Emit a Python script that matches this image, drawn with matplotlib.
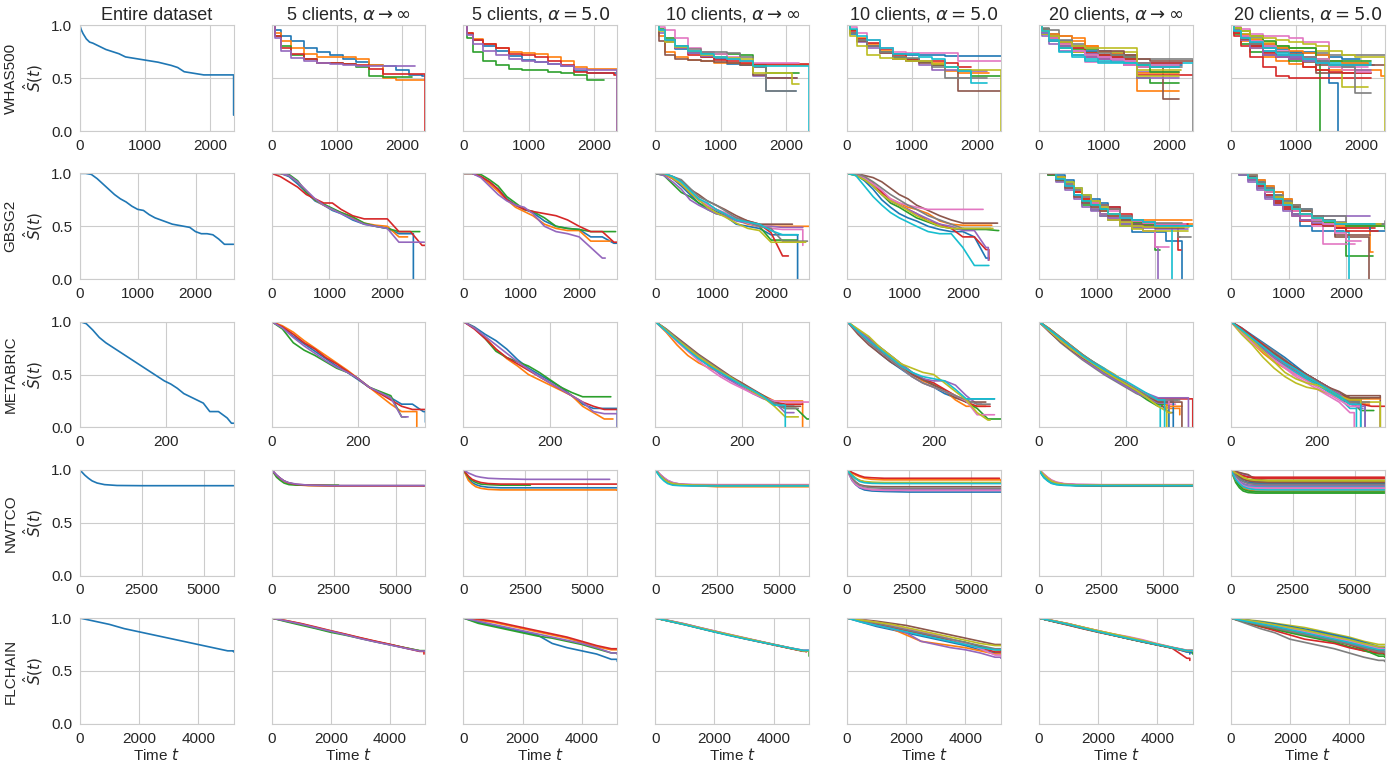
import matplotlib
matplotlib.use('Agg')
import matplotlib.pyplot as plt
import seaborn as sns

sns.set_style('whitegrid')
plt.rcParams['font.family'] = ['Liberation Sans', 'DejaVu Sans']
plt.rcParams['mathtext.fontset'] = 'dejavusans'

datasets = ['WHAS500', 'GBSG2', 'METABRIC', 'NWTCO', 'FLCHAIN']
col_titles = ['Entire dataset',
              r'5 clients, $\alpha \rightarrow \infty$', r'5 clients, $\alpha = 5.0$',
              r'10 clients, $\alpha \rightarrow \infty$', r'10 clients, $\alpha = 5.0$',
              r'20 clients, $\alpha \rightarrow \infty$', r'20 clients, $\alpha = 5.0$']
t_max = [2358, 2659, 355, 6209, 5200]
x_ticks = [[0, 1000, 2000], [0, 1000, 2000], [0, 200], [0, 2500, 5000], [0, 2000, 4000]]
# first column index drawn as coarse KM steps in each row (others drawn as lines)
step_from_col = [1, 5, 99, 99, 99]

# ---------------- WHAS500 ----------------
whas_full_t = [0, 20, 50, 100, 150, 200, 300, 400, 500, 600, 700, 800, 1000, 1200, 1400, 1500, 1600, 1700, 1900, 2100, 2300]
whas_full_s = [[1.0, 0.96, 0.92, 0.87, 0.84, 0.83, 0.80, 0.77, 0.75, 0.73, 0.70, 0.69, 0.67, 0.65, 0.62, 0.60, 0.56, 0.55, 0.53, 0.53, 0.53]]
whas_full_end = [(2358, 0.15)]
whas_t = [0, 50, 150, 300, 500, 700, 900, 1100, 1300, 1500, 1700, 1900, 2100, 2300]
whas_5inf_s = [
    [1, 0.95, 0.90, 0.85, 0.78, 0.75, 0.72, 0.68, 0.65, 0.62, 0.61, 0.58, 0.53, 0.52],
    [1, 0.93, 0.85, 0.78, 0.73, 0.70, 0.70, 0.70, 0.68, 0.62, 0.50, 0.48, 0.48, 0.48],
    [1, 0.90, 0.80, 0.72, 0.68, 0.64, 0.64, 0.63, 0.60, 0.52, 0.51, 0.51, 0.51],
    [1, 0.90, 0.78, 0.73, 0.68, 0.64, 0.64, 0.63, 0.62, 0.59, 0.54, 0.54, 0.54, 0.54],
    [1, 0.88, 0.76, 0.69, 0.66, 0.64, 0.63, 0.62, 0.61, 0.61, 0.61, 0.61, 0.61]]
whas_5inf_end = [(2358, 0.52), (2358, 0.48), (2150, 0.51), (2358, 0.0), (2200, 0.61)]
whas_5a5_s = [
    [1, 0.92, 0.86, 0.80, 0.76, 0.71, 0.67, 0.65, 0.63, 0.61, 0.57, 0.55, 0.55, 0.55],
    [1, 0.93, 0.87, 0.82, 0.78, 0.75, 0.74, 0.73, 0.70, 0.66, 0.60, 0.59, 0.59, 0.59],
    [1, 0.88, 0.75, 0.66, 0.62, 0.59, 0.58, 0.58, 0.56, 0.55, 0.53, 0.48, 0.48],
    [1, 0.93, 0.86, 0.82, 0.78, 0.73, 0.72, 0.70, 0.66, 0.62, 0.56, 0.55, 0.55, 0.53],
    [1, 0.91, 0.82, 0.76, 0.72, 0.68, 0.66, 0.65, 0.63, 0.61, 0.59, 0.58, 0.58, 0.58]]
whas_5a5_end = [(2358, 0.55), (2358, 0.0), (2160, 0.48), (2358, 0.53), (2358, 0.0)]
whas_10inf_s = [
    [1, 0.95, 0.85, 0.77, 0.74, 0.70, 0.68, 0.63, 0.62, 0.60, 0.38, 0.38, 0.38],
    [1, 0.90, 0.75, 0.70, 0.67, 0.66, 0.64, 0.64, 0.63, 0.62, 0.62, 0.62, 0.62, 0.62],
    [1, 0.96, 0.88, 0.80, 0.75, 0.74, 0.73, 0.73, 0.72, 0.62, 0.55, 0.55, 0.55],
    [1, 0.95, 0.85, 0.78, 0.72, 0.70, 0.67, 0.66, 0.64, 0.63, 0.63, 0.63, 0.63, 0.63],
    [1, 0.93, 0.84, 0.78, 0.74, 0.71, 0.70, 0.68, 0.66, 0.52, 0.50, 0.50, 0.50],
    [1, 0.85, 0.72, 0.68, 0.67, 0.66, 0.65, 0.64, 0.62, 0.53, 0.50, 0.50, 0.50],
    [1, 0.98, 0.95, 0.88, 0.78, 0.75, 0.73, 0.70, 0.66, 0.64, 0.64, 0.64, 0.64],
    [1, 0.95, 0.86, 0.80, 0.77, 0.75, 0.75, 0.74, 0.70, 0.60, 0.38, 0.38, 0.38],
    [1, 0.94, 0.84, 0.79, 0.76, 0.72, 0.70, 0.69, 0.68, 0.55, 0.55, 0.55, 0.44],
    [1, 0.95, 0.86, 0.80, 0.76, 0.73, 0.70, 0.68, 0.66, 0.61, 0.61, 0.61, 0.61, 0.61]]
whas_10inf_end = [(2150, 0.38), (2358, 0.62), (2200, 0.55), (2358, 0.63), (2170, 0.50),
                  (2170, 0.50), (2200, 0.64), (2150, 0.38), (2200, 0.44), (2358, 0.0)]
whas_10a5_s = [
    [1, 0.92, 0.85, 0.80, 0.78, 0.73, 0.72, 0.72, 0.72, 0.71, 0.71, 0.71, 0.71, 0.71],
    [1, 0.95, 0.88, 0.82, 0.76, 0.70, 0.67, 0.66, 0.64, 0.57, 0.55, 0.55, 0.55],
    [1, 0.95, 0.86, 0.80, 0.75, 0.70, 0.68, 0.65, 0.62, 0.60, 0.58, 0.52, 0.52, 0.52],
    [1, 0.94, 0.87, 0.83, 0.77, 0.72, 0.67, 0.66, 0.66, 0.64, 0.60, 0.60],
    [1, 0.93, 0.84, 0.78, 0.74, 0.68, 0.66, 0.62, 0.58, 0.58, 0.57, 0.57, 0.57],
    [1, 0.93, 0.85, 0.80, 0.74, 0.68, 0.66, 0.64, 0.62, 0.60, 0.38, 0.38, 0.38, 0.38],
    [1, 0.98, 0.93, 0.86, 0.78, 0.75, 0.74, 0.74, 0.74, 0.74, 0.66, 0.66, 0.66, 0.66],
    [1, 0.93, 0.86, 0.80, 0.75, 0.70, 0.69, 0.66, 0.60, 0.50, 0.50, 0.50, 0.50],
    [1, 0.90, 0.80, 0.72, 0.69, 0.68, 0.66, 0.66, 0.63, 0.60, 0.58, 0.58, 0.58, 0.58],
    [1, 0.96, 0.90, 0.86, 0.78, 0.73, 0.73, 0.70, 0.68, 0.60, 0.57, 0.45, 0.45]]
whas_10a5_end = [(2358, 0.71), (2170, 0.55), (2358, 0.52), (1900, 0.60), (2150, 0.57),
                 (2358, 0.38), (2358, 0.66), (2150, 0.50), (2358, 0.0), (2150, 0.45)]
whas_20inf_s = [
    [1, 0.95, 0.90, 0.82, 0.78, 0.75, 0.75, 0.75, 0.72, 0.60, 0.60, 0.60, 0.60],
    [1, 0.93, 0.88, 0.85, 0.85, 0.80, 0.72, 0.72, 0.72, 0.38, 0.38, 0.38, 0.38],
    [1, 0.92, 0.85, 0.78, 0.72, 0.72, 0.70, 0.70, 0.68, 0.50, 0.45, 0.45, 0.45],
    [1, 0.95, 0.88, 0.80, 0.75, 0.70, 0.68, 0.68, 0.62, 0.53, 0.53, 0.53, 0.53, 0.53],
    [1, 0.90, 0.82, 0.76, 0.72, 0.70, 0.68, 0.66, 0.62, 0.56, 0.56, 0.56, 0.56],
    [1, 0.93, 0.85, 0.80, 0.75, 0.72, 0.70, 0.70, 0.65, 0.60, 0.60, 0.30, 0.30],
    [1, 0.95, 0.90, 0.82, 0.78, 0.65, 0.65, 0.65, 0.62, 0.60, 0.60, 0.60, 0.60],
    [1, 0.97, 0.95, 0.90, 0.82, 0.78, 0.75, 0.75, 0.72, 0.68, 0.68, 0.68, 0.68, 0.68],
    [1, 0.92, 0.88, 0.82, 0.75, 0.75, 0.75, 0.75, 0.75, 0.58, 0.58, 0.58, 0.58],
    [1, 0.93, 0.85, 0.75, 0.72, 0.66, 0.64, 0.64, 0.64, 0.64, 0.64, 0.64, 0.64, 0.64],
    [1, 0.96, 0.92, 0.85, 0.80, 0.76, 0.76, 0.73, 0.70, 0.62, 0.62, 0.62, 0.62],
    [1, 0.95, 0.92, 0.90, 0.88, 0.80, 0.75, 0.73, 0.70, 0.55, 0.55, 0.55, 0.55],
    [1, 0.96, 0.88, 0.80, 0.77, 0.77, 0.72, 0.72, 0.70, 0.62, 0.56, 0.56, 0.56],
    [1, 0.94, 0.88, 0.83, 0.78, 0.74, 0.72, 0.70, 0.68, 0.64, 0.64, 0.64, 0.64],
    [1, 0.93, 0.86, 0.80, 0.76, 0.73, 0.70, 0.68, 0.66, 0.50, 0.50, 0.50, 0.50],
    [1, 0.95, 0.90, 0.84, 0.80, 0.78, 0.76, 0.76, 0.72, 0.68, 0.66, 0.66, 0.66, 0.66],
    [1, 0.94, 0.88, 0.82, 0.76, 0.72, 0.70, 0.68, 0.66, 0.64, 0.62, 0.62, 0.62],
    [1, 0.96, 0.90, 0.86, 0.80, 0.78, 0.74, 0.72, 0.70, 0.64, 0.60, 0.60, 0.60],
    [1, 0.94, 0.90, 0.84, 0.80, 0.78, 0.78, 0.78, 0.78, 0.52, 0.52, 0.52, 0.52],
    [1, 0.94, 0.86, 0.78, 0.70, 0.68, 0.66, 0.65, 0.64, 0.62, 0.60, 0.60, 0.60]]
whas_20inf_end = [(2150, 0.60), (2150, 0.38), (2150, 0.45), (2358, 0.53), (2150, 0.56),
                  (2150, 0.30), (2150, 0.60), (2358, 0.0), (2180, 0.58), (2358, 0.64),
                  (2200, 0.62), (2150, 0.55), (2150, 0.56), (2200, 0.64), (2150, 0.50),
                  (2358, 0.66), (2150, 0.62), (2200, 0.60), (2150, 0.52), (2150, 0.60)]
whas_20a5_s = [
    [1, 0.95, 0.88, 0.80, 0.75, 0.72, 0.70, 0.70, 0.66, 0.45],
    [1, 0.93, 0.85, 0.78, 0.70, 0.66, 0.63, 0.60, 0.58, 0.58, 0.58, 0.58, 0.58, 0.52],
    [1, 0.92, 0.82, 0.75, 0.72, 0.70, 0.66, 0.66, 0.66],
    [1, 0.90, 0.80, 0.70, 0.60, 0.52, 0.50, 0.50, 0.50, 0.50, 0.50, 0.50, 0.50],
    [1, 0.94, 0.88, 0.82, 0.76, 0.72, 0.70, 0.68, 0.64, 0.60, 0.60, 0.58, 0.58],
    [1, 0.96, 0.90, 0.80, 0.72, 0.70, 0.68, 0.65, 0.55, 0.55, 0.55, 0.55, 0.55],
    [1, 0.98, 0.96, 0.92, 0.90, 0.90, 0.88, 0.84, 0.84, 0.62, 0.60, 0.60],
    [1, 0.96, 0.92, 0.88, 0.82, 0.78, 0.75, 0.74, 0.74, 0.72, 0.72, 0.72, 0.72, 0.72],
    [1, 0.97, 0.92, 0.87, 0.84, 0.80, 0.78, 0.78, 0.76, 0.60, 0.42, 0.42],
    [1, 0.94, 0.88, 0.82, 0.76, 0.72, 0.68, 0.66, 0.64, 0.64, 0.64, 0.64, 0.64],
    [1, 0.95, 0.90, 0.84, 0.80, 0.77, 0.75, 0.75, 0.72, 0.70, 0.68, 0.68],
    [1, 0.96, 0.91, 0.86, 0.82, 0.78, 0.76, 0.74, 0.72, 0.66, 0.64, 0.64, 0.62],
    [1, 0.97, 0.94, 0.90, 0.85, 0.80, 0.78, 0.78, 0.68, 0.66, 0.66, 0.66, 0.66],
    [1, 0.93, 0.86, 0.80, 0.74, 0.70, 0.68, 0.60, 0.58, 0.56, 0.55, 0.55, 0.55],
    [1, 0.95, 0.86, 0.78, 0.72, 0.70, 0.68, 0.66, 0.64, 0.62, 0.62, 0.62, 0.62],
    [1, 0.94, 0.87, 0.82, 0.78, 0.75, 0.73, 0.70, 0.62, 0.62, 0.62, 0.62, 0.62, 0.62],
    [1, 0.95, 0.90, 0.85, 0.80, 0.76, 0.72, 0.70, 0.68, 0.60, 0.58, 0.56, 0.56],
    [1, 0.95, 0.88, 0.82, 0.78, 0.75, 0.72, 0.70, 0.66, 0.62, 0.60, 0.36, 0.36],
    [1, 0.97, 0.94, 0.90, 0.88, 0.86, 0.84, 0.82, 0.80, 0.76, 0.72, 0.70, 0.70, 0.70],
    [1, 0.94, 0.88, 0.84, 0.78, 0.74, 0.72, 0.68, 0.64, 0.62, 0.62, 0.62, 0.62]]
whas_20a5_end = [(1640, 0.0), (2358, 0.52), (1370, 0.0), (2150, 0.50), (2150, 0.58),
                 (2150, 0.55), (2100, 0.60), (2358, 0.72), (2100, 0.42), (2150, 0.64),
                 (1980, 0.68), (2200, 0.62), (2150, 0.66), (2150, 0.55), (2200, 0.62),
                 (2358, 0.62), (2150, 0.56), (2150, 0.36), (2358, 0.0), (2150, 0.62)]

# ---------------- GBSG2 ----------------
gbsg_full_t = [0, 100, 200, 300, 400, 500, 600, 700, 800, 900, 1000, 1100, 1200, 1300, 1400, 1500, 1600, 1700, 1800, 1900, 2000, 2100, 2200, 2300, 2400, 2500]
gbsg_full_s = [[1.0, 1.0, 0.99, 0.95, 0.90, 0.85, 0.80, 0.76, 0.73, 0.69, 0.66, 0.65, 0.61, 0.58, 0.56, 0.54, 0.52, 0.51, 0.50, 0.49, 0.45, 0.43, 0.43, 0.42, 0.38, 0.33]]
gbsg_full_end = [(2659, 0.33)]
gbsg_t = [0, 150, 300, 450, 600, 750, 900, 1050, 1200, 1400, 1600, 1800, 2000, 2200, 2400, 2600]
gbsg_5inf_s = [
    [1, 1.0, 0.97, 0.90, 0.82, 0.74, 0.70, 0.65, 0.62, 0.56, 0.52, 0.50, 0.48, 0.43, 0.43],
    [1, 1.0, 0.98, 0.92, 0.83, 0.75, 0.70, 0.66, 0.63, 0.58, 0.53, 0.51, 0.50, 0.40],
    [1, 1.0, 0.99, 0.93, 0.82, 0.75, 0.71, 0.67, 0.63, 0.59, 0.53, 0.50, 0.48, 0.45, 0.45],
    [1, 0.97, 0.92, 0.87, 0.80, 0.76, 0.72, 0.72, 0.66, 0.60, 0.57, 0.57, 0.57, 0.45, 0.45, 0.32],
    [1, 1.0, 0.98, 0.92, 0.84, 0.76, 0.70, 0.66, 0.62, 0.57, 0.52, 0.50, 0.48, 0.35, 0.35, 0.35]]
gbsg_5inf_end = [(2450, 0.0), (2350, 0.40), (2560, 0.45), (2659, 0.32), (2640, 0.35)]
gbsg_5a5_s = [
    [1, 1.0, 0.97, 0.92, 0.85, 0.76, 0.70, 0.66, 0.63, 0.55, 0.50, 0.48, 0.47, 0.40, 0.40, 0.34],
    [1, 1.0, 0.97, 0.90, 0.83, 0.75, 0.68, 0.64, 0.60, 0.52, 0.48, 0.46, 0.46, 0.36, 0.36],
    [1, 1.0, 0.99, 0.94, 0.88, 0.78, 0.72, 0.66, 0.64, 0.58, 0.50, 0.48, 0.47, 0.45, 0.45, 0.45],
    [1, 1.0, 0.97, 0.92, 0.85, 0.75, 0.70, 0.66, 0.64, 0.62, 0.60, 0.56, 0.50, 0.45, 0.45, 0.35],
    [1, 1.0, 0.96, 0.88, 0.80, 0.74, 0.70, 0.68, 0.62, 0.50, 0.45, 0.43, 0.40, 0.30, 0.20]]
gbsg_5a5_end = [(2659, 0.34), (2540, 0.36), (2630, 0.45), (2659, 0.35), (2450, 0.20)]
gbsg_10inf_s = [
    [1, 1.0, 0.95, 0.88, 0.80, 0.72, 0.68, 0.64, 0.60, 0.52, 0.50, 0.48, 0.42, 0.42, 0.42],
    [1, 0.99, 0.95, 0.90, 0.82, 0.75, 0.70, 0.66, 0.62, 0.56, 0.52, 0.50, 0.50, 0.50, 0.50, 0.50],
    [1, 0.98, 0.90, 0.82, 0.78, 0.72, 0.66, 0.62, 0.60, 0.56, 0.53, 0.50, 0.37, 0.37, 0.37],
    [1, 1.0, 0.96, 0.90, 0.82, 0.75, 0.70, 0.66, 0.62, 0.58, 0.55, 0.52, 0.44, 0.22],
    [1, 0.98, 0.92, 0.85, 0.75, 0.70, 0.66, 0.62, 0.60, 0.55, 0.53, 0.50, 0.50, 0.49, 0.49],
    [1, 1.0, 0.97, 0.93, 0.85, 0.80, 0.74, 0.70, 0.66, 0.60, 0.55, 0.52, 0.52, 0.52],
    [1, 1.0, 0.96, 0.90, 0.83, 0.76, 0.70, 0.66, 0.63, 0.58, 0.53, 0.50, 0.48, 0.47, 0.47],
    [1, 1.0, 0.97, 0.94, 0.86, 0.78, 0.74, 0.70, 0.65, 0.58, 0.54, 0.50, 0.48, 0.36, 0.36, 0.36],
    [1, 1.0, 0.96, 0.90, 0.82, 0.75, 0.68, 0.63, 0.59, 0.53, 0.48, 0.46, 0.35, 0.35, 0.35],
    [1, 1.0, 0.97, 0.92, 0.84, 0.76, 0.72, 0.66, 0.62, 0.56, 0.54, 0.52, 0.46, 0.42, 0.42]]
gbsg_10inf_end = [(2460, 0.0), (2659, 0.50), (2450, 0.37), (2300, 0.22), (2550, 0.49),
                  (2370, 0.52), (2550, 0.32), (2630, 0.36), (2600, 0.35), (2470, 0.42)]
gbsg_10a5_s = [
    [1, 0.99, 0.93, 0.85, 0.75, 0.68, 0.62, 0.58, 0.55, 0.50, 0.47, 0.45, 0.45, 0.40, 0.20],
    [1, 1.0, 0.97, 0.90, 0.82, 0.76, 0.72, 0.68, 0.66, 0.62, 0.55, 0.52, 0.51, 0.51, 0.51],
    [1, 0.98, 0.94, 0.88, 0.80, 0.72, 0.68, 0.63, 0.58, 0.54, 0.50, 0.48, 0.47, 0.47, 0.47, 0.46],
    [1, 1.0, 0.96, 0.90, 0.82, 0.74, 0.70, 0.66, 0.62, 0.55, 0.52, 0.48, 0.40, 0.40, 0.28],
    [1, 1.0, 0.95, 0.88, 0.80, 0.74, 0.70, 0.66, 0.62, 0.57, 0.52, 0.50, 0.46, 0.46, 0.30],
    [1, 1.0, 0.98, 0.96, 0.92, 0.86, 0.80, 0.76, 0.70, 0.65, 0.60, 0.56, 0.53, 0.53, 0.53],
    [1, 1.0, 0.96, 0.90, 0.84, 0.76, 0.72, 0.70, 0.68, 0.66, 0.66, 0.66, 0.66, 0.66],
    [1, 1.0, 0.97, 0.92, 0.86, 0.80, 0.75, 0.70, 0.66, 0.60, 0.56, 0.52, 0.48, 0.48, 0.48],
    [1, 0.98, 0.94, 0.88, 0.80, 0.74, 0.70, 0.65, 0.60, 0.55, 0.50, 0.48, 0.48, 0.48, 0.48],
    [1, 0.98, 0.88, 0.78, 0.70, 0.63, 0.58, 0.54, 0.50, 0.45, 0.43, 0.43, 0.30, 0.13, 0.13]]
gbsg_10a5_end = [(2450, 0.20), (2500, 0.51), (2620, 0.46), (2450, 0.18), (2440, 0.18),
                 (2600, 0.53), (2350, 0.66), (2480, 0.48), (2520, 0.48), (2450, 0.13)]
gbsg_20inf_s = [
    [1, 1.0, 0.96, 0.90, 0.82, 0.72, 0.68, 0.62, 0.58, 0.50, 0.45, 0.45, 0.45, 0.36, 0.36],
    [1, 1.0, 0.95, 0.88, 0.82, 0.76, 0.72, 0.66, 0.62, 0.58, 0.56, 0.56, 0.56, 0.56, 0.56, 0.56],
    [1, 0.98, 0.93, 0.86, 0.78, 0.70, 0.65, 0.60, 0.56, 0.52, 0.48, 0.46, 0.28],
    [1, 1.0, 0.97, 0.92, 0.84, 0.76, 0.72, 0.70, 0.66, 0.56, 0.52, 0.50, 0.50, 0.50, 0.28],
    [1, 0.98, 0.92, 0.84, 0.76, 0.68, 0.64, 0.60, 0.56, 0.52, 0.48, 0.46, 0.30],
    [1, 1.0, 0.95, 0.88, 0.80, 0.74, 0.70, 0.66, 0.62, 0.55, 0.52, 0.50, 0.50, 0.50, 0.40],
    [1, 1.0, 0.94, 0.86, 0.78, 0.72, 0.68, 0.62, 0.58, 0.54, 0.50, 0.46, 0.30, 0.30],
    [1, 1.0, 0.97, 0.92, 0.84, 0.78, 0.72, 0.68, 0.62, 0.56, 0.54, 0.52, 0.52, 0.52, 0.40, 0.40],
    [1, 1.0, 0.96, 0.88, 0.80, 0.72, 0.67, 0.62, 0.56, 0.50, 0.47, 0.46, 0.46, 0.46, 0.46],
    [1, 1.0, 0.97, 0.92, 0.85, 0.78, 0.72, 0.66, 0.62, 0.58, 0.52, 0.50, 0.50, 0.50],
    [1, 1.0, 0.98, 0.94, 0.86, 0.80, 0.76, 0.72, 0.68, 0.60, 0.56, 0.52, 0.50, 0.50, 0.50, 0.50],
    [1, 1.0, 0.96, 0.90, 0.82, 0.76, 0.70, 0.64, 0.60, 0.56, 0.54, 0.52, 0.52, 0.52, 0.52, 0.52],
    [1, 0.98, 0.94, 0.88, 0.80, 0.74, 0.70, 0.66, 0.62, 0.57, 0.54, 0.52, 0.52, 0.52, 0.52],
    [1, 1.0, 0.97, 0.90, 0.82, 0.76, 0.72, 0.70, 0.68, 0.62, 0.55, 0.53, 0.52, 0.52, 0.52],
    [1, 1.0, 0.95, 0.88, 0.80, 0.72, 0.66, 0.62, 0.58, 0.55, 0.50, 0.48, 0.47, 0.47, 0.47],
    [1, 0.99, 0.94, 0.86, 0.78, 0.72, 0.68, 0.64, 0.60, 0.56, 0.52, 0.50, 0.48, 0.48, 0.48],
    [1, 1.0, 0.96, 0.90, 0.84, 0.78, 0.72, 0.68, 0.64, 0.58, 0.55, 0.53, 0.52, 0.52, 0.52],
    [1, 1.0, 0.96, 0.90, 0.84, 0.78, 0.74, 0.70, 0.66, 0.60, 0.56, 0.54, 0.53, 0.53, 0.53],
    [1, 1.0, 0.97, 0.92, 0.86, 0.80, 0.74, 0.68, 0.62, 0.54, 0.50, 0.49, 0.49, 0.49, 0.49],
    [1, 1.0, 0.95, 0.88, 0.80, 0.74, 0.70, 0.66, 0.62, 0.58, 0.56, 0.54, 0.50, 0.50, 0.50, 0.50]]
gbsg_20inf_end = [(2470, 0.0), (2640, 0.56), (2100, 0.28), (2460, 0.28), (2050, 0.0),
                  (2440, 0.40), (2250, 0.30), (2630, 0.40), (2580, 0.46), (2300, 0.0),
                  (2650, 0.50), (2659, 0.52), (2450, 0.52), (2580, 0.52), (2580, 0.47),
                  (2500, 0.48), (2540, 0.52), (2480, 0.53), (2600, 0.49), (2659, 0.50)]
gbsg_20a5_s = [
    [1, 1.0, 0.95, 0.88, 0.80, 0.74, 0.68, 0.62, 0.50, 0.46, 0.46, 0.46],
    [1, 1.0, 0.97, 0.90, 0.84, 0.78, 0.72, 0.68, 0.62, 0.56, 0.53, 0.50, 0.50, 0.50, 0.26],
    [1, 0.98, 0.94, 0.86, 0.78, 0.72, 0.66, 0.62, 0.56, 0.52, 0.50, 0.48, 0.22, 0.22, 0.22],
    [1, 1.0, 0.96, 0.90, 0.82, 0.74, 0.68, 0.64, 0.56, 0.52, 0.50, 0.48, 0.48, 0.48, 0.48],
    [1, 0.98, 0.92, 0.84, 0.76, 0.70, 0.66, 0.62, 0.60, 0.60, 0.60, 0.60, 0.60, 0.60],
    [1, 1.0, 0.97, 0.92, 0.86, 0.78, 0.72, 0.66, 0.60, 0.55, 0.50, 0.40, 0.40, 0.40],
    [1, 1.0, 0.96, 0.90, 0.84, 0.76, 0.70, 0.64, 0.60, 0.50, 0.33, 0.33, 0.33],
    [1, 1.0, 0.98, 0.94, 0.88, 0.82, 0.76, 0.70, 0.64, 0.60, 0.60, 0.60, 0.52, 0.52, 0.52, 0.52],
    [1, 1.0, 0.96, 0.90, 0.84, 0.78, 0.74, 0.68, 0.64, 0.58, 0.54, 0.52, 0.50, 0.50, 0.50],
    [1, 1.0, 0.97, 0.92, 0.86, 0.80, 0.74, 0.68, 0.62, 0.56, 0.50, 0.45],
    [1, 1.0, 0.97, 0.92, 0.86, 0.80, 0.75, 0.70, 0.66, 0.60, 0.56, 0.53, 0.50, 0.50, 0.46, 0.46],
    [1, 1.0, 0.98, 0.94, 0.88, 0.82, 0.76, 0.70, 0.64, 0.58, 0.55, 0.52, 0.50, 0.50, 0.50],
    [1, 1.0, 0.96, 0.90, 0.82, 0.76, 0.70, 0.66, 0.62, 0.57, 0.54, 0.52, 0.50, 0.50, 0.50, 0.50],
    [1, 1.0, 0.95, 0.88, 0.80, 0.72, 0.66, 0.60, 0.55, 0.52, 0.50, 0.48, 0.46, 0.46, 0.46],
    [1, 1.0, 0.94, 0.86, 0.78, 0.70, 0.64, 0.60, 0.56, 0.53, 0.52, 0.52, 0.52, 0.52],
    [1, 1.0, 0.97, 0.90, 0.84, 0.78, 0.72, 0.68, 0.64, 0.60, 0.55, 0.42, 0.42, 0.42],
    [1, 1.0, 0.96, 0.90, 0.82, 0.76, 0.70, 0.66, 0.62, 0.56, 0.52, 0.44, 0.36, 0.36],
    [1, 1.0, 0.98, 0.92, 0.86, 0.80, 0.74, 0.70, 0.66, 0.60, 0.56, 0.54, 0.52, 0.52, 0.52, 0.52],
    [1, 1.0, 0.96, 0.90, 0.84, 0.78, 0.72, 0.66, 0.62, 0.58, 0.55, 0.53, 0.52, 0.52, 0.52],
    [1, 1.0, 0.96, 0.90, 0.84, 0.76, 0.70, 0.66, 0.62, 0.58, 0.55, 0.52, 0.52, 0.52, 0.52]]
gbsg_20a5_end = [(1950, 0.46), (2450, 0.26), (2450, 0.22), (2500, 0.48), (2400, 0.60),
                 (2390, 0.0), (2150, 0.33), (2659, 0.52), (2450, 0.50), (2050, 0.0),
                 (2659, 0.46), (2600, 0.50), (2659, 0.47), (2540, 0.46), (2400, 0.52),
                 (2400, 0.42), (2250, 0.36), (2659, 0.55), (2600, 0.52), (2500, 0.52)]

# ---------------- METABRIC ----------------
meta_full_t = [0, 15, 30, 45, 60, 75, 90, 105, 120, 135, 150, 165, 180, 195, 210, 225, 240, 255, 270, 285, 300, 320, 340, 350]
meta_full_s = [[1.0, 0.98, 0.92, 0.85, 0.80, 0.76, 0.72, 0.68, 0.64, 0.60, 0.56, 0.52, 0.48, 0.44, 0.41, 0.37, 0.32, 0.29, 0.26, 0.23, 0.15, 0.15, 0.09, 0.04]]
meta_full_end = [(355, 0.04)]
meta_t = [0, 25, 50, 75, 100, 125, 150, 175, 200, 225, 250, 275, 300, 325, 350]
meta_5inf_s = [
    [1, 0.94, 0.86, 0.79, 0.72, 0.65, 0.58, 0.52, 0.45, 0.38, 0.33, 0.28, 0.22, 0.22, 0.15],
    [1, 0.96, 0.90, 0.82, 0.75, 0.68, 0.61, 0.54, 0.46, 0.38, 0.30, 0.22, 0.15, 0.15],
    [1, 0.93, 0.80, 0.73, 0.68, 0.62, 0.56, 0.52, 0.46, 0.38, 0.34, 0.30, 0.10],
    [1, 0.95, 0.88, 0.80, 0.74, 0.66, 0.60, 0.53, 0.46, 0.38, 0.32, 0.26, 0.20, 0.17],
    [1, 0.94, 0.85, 0.77, 0.70, 0.63, 0.57, 0.52, 0.46, 0.38, 0.33, 0.28, 0.10]]
meta_5inf_end = [(355, 0.05), (335, 0.0), (310, 0.10), (355, 0.17), (315, 0.10)]
meta_5a5_s = [
    [1, 0.95, 0.88, 0.82, 0.74, 0.64, 0.56, 0.50, 0.44, 0.38, 0.30, 0.22, 0.18, 0.18, 0.18],
    [1, 0.94, 0.85, 0.74, 0.65, 0.58, 0.50, 0.45, 0.40, 0.35, 0.30, 0.20, 0.14, 0.08],
    [1, 0.94, 0.84, 0.72, 0.66, 0.62, 0.58, 0.52, 0.45, 0.38, 0.33, 0.29, 0.29, 0.29],
    [1, 0.93, 0.84, 0.74, 0.66, 0.60, 0.54, 0.48, 0.42, 0.36, 0.30, 0.24, 0.20, 0.17, 0.17],
    [1, 0.94, 0.86, 0.78, 0.70, 0.62, 0.55, 0.48, 0.42, 0.36, 0.30, 0.24, 0.15, 0.13, 0.13]]
meta_5a5_end = [(355, 0.0), (345, 0.08), (340, 0.29), (355, 0.17), (355, 0.0)]
meta_10inf_s = [
    [1, 0.92, 0.82, 0.73, 0.65, 0.58, 0.52, 0.45, 0.40, 0.34, 0.28, 0.22, 0.20],
    [1, 0.90, 0.78, 0.68, 0.61, 0.56, 0.52, 0.47, 0.42, 0.35, 0.30, 0.25, 0.25, 0.25],
    [1, 0.92, 0.84, 0.76, 0.68, 0.60, 0.54, 0.47, 0.41, 0.34, 0.28, 0.22, 0.18, 0.18, 0.08],
    [1, 0.92, 0.83, 0.74, 0.66, 0.60, 0.54, 0.47, 0.40, 0.34, 0.28, 0.24, 0.22, 0.22],
    [1, 0.91, 0.82, 0.74, 0.66, 0.58, 0.50, 0.44, 0.38, 0.32, 0.27, 0.24, 0.14],
    [1, 0.93, 0.85, 0.77, 0.69, 0.62, 0.55, 0.48, 0.42, 0.36, 0.30, 0.24, 0.20, 0.20],
    [1, 0.91, 0.81, 0.72, 0.63, 0.55, 0.48, 0.42, 0.37, 0.32, 0.28, 0.25, 0.24, 0.24, 0.24],
    [1, 0.93, 0.84, 0.76, 0.68, 0.61, 0.54, 0.47, 0.41, 0.35, 0.29, 0.23, 0.18, 0.18],
    [1, 0.92, 0.83, 0.75, 0.67, 0.60, 0.53, 0.47, 0.40, 0.34, 0.28, 0.20, 0.10, 0.10],
    [1, 0.91, 0.82, 0.73, 0.65, 0.58, 0.52, 0.46, 0.40, 0.35, 0.29, 0.21]]
meta_10inf_end = [(320, 0.20), (340, 0.0), (355, 0.08), (340, 0.22), (320, 0.14),
                  (335, 0.20), (355, 0.24), (330, 0.18), (330, 0.10), (300, 0.0)]
meta_10a5_s = [
    [1, 0.90, 0.80, 0.70, 0.62, 0.55, 0.48, 0.42, 0.38, 0.32, 0.28, 0.27, 0.27, 0.27],
    [1, 0.92, 0.82, 0.74, 0.66, 0.58, 0.50, 0.44, 0.40, 0.35, 0.26, 0.20, 0.20],
    [1, 0.92, 0.84, 0.76, 0.68, 0.60, 0.52, 0.46, 0.40, 0.35, 0.30, 0.24, 0.18, 0.08, 0.08],
    [1, 0.91, 0.82, 0.73, 0.64, 0.56, 0.50, 0.46, 0.42, 0.36, 0.30, 0.24, 0.20, 0.20],
    [1, 0.92, 0.84, 0.76, 0.68, 0.60, 0.52, 0.46, 0.44, 0.44, 0.40, 0.30, 0.22],
    [1, 0.88, 0.78, 0.70, 0.62, 0.56, 0.50, 0.45, 0.40, 0.34, 0.28, 0.24, 0.24],
    [1, 0.90, 0.80, 0.72, 0.64, 0.56, 0.48, 0.42, 0.38, 0.34, 0.30, 0.25, 0.12, 0.12],
    [1, 0.90, 0.80, 0.72, 0.64, 0.56, 0.48, 0.42, 0.38, 0.34, 0.30, 0.26, 0.22, 0.22],
    [1, 0.93, 0.86, 0.76, 0.68, 0.60, 0.56, 0.52, 0.50, 0.42, 0.34, 0.26, 0.14, 0.07],
    [1, 0.91, 0.82, 0.74, 0.66, 0.58, 0.52, 0.48, 0.46, 0.44, 0.36, 0.27, 0.27, 0.27]]
meta_10a5_end = [(340, 0.27), (320, 0.20), (355, 0.08), (330, 0.20), (310, 0.22),
                 (320, 0.24), (340, 0.12), (330, 0.22), (330, 0.07), (340, 0.27)]
meta_20inf_s = [
    [1, 0.92, 0.84, 0.76, 0.68, 0.61, 0.54, 0.47, 0.41, 0.35, 0.29, 0.22, 0.20],
    [1, 0.91, 0.82, 0.74, 0.66, 0.59, 0.52, 0.46, 0.40, 0.34, 0.28, 0.22, 0.18, 0.12],
    [1, 0.93, 0.85, 0.77, 0.69, 0.62, 0.55, 0.48, 0.41, 0.33, 0.26, 0.20],
    [1, 0.92, 0.83, 0.75, 0.67, 0.60, 0.53, 0.46, 0.40, 0.34, 0.29, 0.27, 0.27, 0.27, 0.27],
    [1, 0.90, 0.81, 0.73, 0.66, 0.60, 0.54, 0.48, 0.42, 0.36, 0.32, 0.28, 0.28, 0.28],
    [1, 0.91, 0.82, 0.73, 0.65, 0.58, 0.52, 0.46, 0.40, 0.34, 0.28, 0.24, 0.14],
    [1, 0.92, 0.84, 0.76, 0.68, 0.60, 0.53, 0.47, 0.41, 0.36, 0.31, 0.25, 0.22],
    [1, 0.90, 0.80, 0.72, 0.64, 0.57, 0.50, 0.44, 0.38, 0.32, 0.28, 0.26, 0.26],
    [1, 0.93, 0.84, 0.76, 0.68, 0.62, 0.56, 0.50, 0.42, 0.35, 0.28, 0.22],
    [1, 0.92, 0.83, 0.75, 0.68, 0.62, 0.56, 0.48, 0.42, 0.36, 0.30, 0.24],
    [1, 0.91, 0.82, 0.74, 0.66, 0.59, 0.52, 0.45, 0.40, 0.34, 0.29, 0.24, 0.24],
    [1, 0.93, 0.85, 0.77, 0.69, 0.61, 0.54, 0.47, 0.41, 0.35, 0.30, 0.25, 0.20, 0.20],
    [1, 0.92, 0.83, 0.74, 0.66, 0.59, 0.53, 0.47, 0.41, 0.35, 0.29, 0.22],
    [1, 0.91, 0.83, 0.75, 0.67, 0.61, 0.55, 0.49, 0.43, 0.37, 0.31, 0.26, 0.26],
    [1, 0.92, 0.82, 0.73, 0.65, 0.58, 0.51, 0.45, 0.39, 0.33, 0.28, 0.23, 0.18],
    [1, 0.90, 0.81, 0.73, 0.66, 0.60, 0.54, 0.48, 0.42, 0.36, 0.30, 0.24, 0.24, 0.24],
    [1, 0.91, 0.82, 0.74, 0.67, 0.61, 0.55, 0.49, 0.43, 0.37, 0.31, 0.26, 0.22],
    [1, 0.93, 0.85, 0.77, 0.69, 0.62, 0.55, 0.48, 0.42, 0.36, 0.30, 0.26, 0.26],
    [1, 0.91, 0.82, 0.74, 0.67, 0.60, 0.53, 0.47, 0.41, 0.35, 0.28, 0.20, 0.14],
    [1, 0.92, 0.84, 0.76, 0.68, 0.61, 0.55, 0.49, 0.44, 0.38, 0.32, 0.26]]
meta_20inf_end = [(300, 0.0), (325, 0.12), (285, 0.20), (355, 0.0), (345, 0.0),
                  (310, 0.14), (315, 0.22), (320, 0.26), (295, 0.0), (280, 0.0),
                  (310, 0.0), (330, 0.20), (290, 0.22), (310, 0.26), (300, 0.18),
                  (330, 0.0), (300, 0.22), (325, 0.26), (305, 0.14), (290, 0.0)]
meta_20a5_s = [
    [1, 0.94, 0.87, 0.80, 0.73, 0.66, 0.58, 0.50, 0.44, 0.38, 0.28, 0.22, 0.22],
    [1, 0.90, 0.80, 0.70, 0.62, 0.56, 0.50, 0.45, 0.40, 0.34, 0.30, 0.22, 0.22],
    [1, 0.92, 0.84, 0.76, 0.68, 0.60, 0.54, 0.48, 0.42, 0.34, 0.32, 0.26, 0.16, 0.16],
    [1, 0.91, 0.83, 0.76, 0.68, 0.62, 0.56, 0.50, 0.44, 0.38, 0.32, 0.26, 0.22, 0.20, 0.20],
    [1, 0.93, 0.84, 0.75, 0.66, 0.58, 0.52, 0.46, 0.42, 0.38, 0.30, 0.22, 0.18],
    [1, 0.92, 0.84, 0.76, 0.68, 0.60, 0.54, 0.48, 0.42, 0.36, 0.30, 0.30, 0.30, 0.30],
    [1, 0.90, 0.80, 0.72, 0.64, 0.56, 0.48, 0.42, 0.36, 0.30, 0.24, 0.14],
    [1, 0.93, 0.86, 0.79, 0.72, 0.64, 0.56, 0.50, 0.44, 0.38, 0.32, 0.26, 0.22],
    [1, 0.88, 0.78, 0.66, 0.56, 0.48, 0.42, 0.38, 0.36, 0.32, 0.28, 0.24, 0.24, 0.24],
    [1, 0.92, 0.84, 0.75, 0.66, 0.58, 0.52, 0.46, 0.40, 0.34, 0.28, 0.18],
    [1, 0.93, 0.85, 0.77, 0.70, 0.62, 0.56, 0.50, 0.44, 0.36, 0.30, 0.24, 0.24],
    [1, 0.91, 0.82, 0.74, 0.66, 0.60, 0.54, 0.48, 0.42, 0.36, 0.30, 0.27, 0.27, 0.27],
    [1, 0.92, 0.83, 0.74, 0.66, 0.60, 0.54, 0.48, 0.42, 0.36, 0.32, 0.28, 0.28],
    [1, 0.94, 0.86, 0.78, 0.70, 0.63, 0.56, 0.50, 0.44, 0.38, 0.32, 0.26, 0.20],
    [1, 0.91, 0.82, 0.74, 0.66, 0.60, 0.54, 0.48, 0.44, 0.38, 0.32, 0.24, 0.20],
    [1, 0.93, 0.85, 0.77, 0.70, 0.63, 0.56, 0.50, 0.44, 0.38, 0.34, 0.28, 0.28, 0.28],
    [1, 0.90, 0.80, 0.72, 0.64, 0.57, 0.50, 0.44, 0.38, 0.32, 0.26, 0.20, 0.12],
    [1, 0.92, 0.84, 0.76, 0.68, 0.61, 0.55, 0.49, 0.43, 0.37, 0.30, 0.24, 0.24],
    [1, 0.91, 0.82, 0.72, 0.62, 0.52, 0.46, 0.42, 0.40, 0.36, 0.30, 0.26, 0.22],
    [1, 0.92, 0.84, 0.76, 0.68, 0.61, 0.55, 0.48, 0.42, 0.36, 0.30, 0.22, 0.15]]
meta_20a5_end = [(310, 0.0), (320, 0.22), (330, 0.16), (355, 0.20), (305, 0.18),
                 (345, 0.0), (285, 0.0), (300, 0.22), (345, 0.0), (290, 0.0),
                 (300, 0.0), (345, 0.27), (320, 0.28), (300, 0.20), (310, 0.0),
                 (345, 0.28), (300, 0.0), (320, 0.24), (300, 0.22), (300, 0.0)]

# ---------------- NWTCO ----------------
nwt_t = [0, 100, 200, 350, 500, 700, 1000, 1500, 2500]
nwt_full_s = [[1.0, 0.975, 0.95, 0.92, 0.895, 0.875, 0.86, 0.852, 0.85]]
nwt_full_end = [(6209, 0.85)]
nwt_5inf_s = [
    [1, 0.975, 0.95, 0.92, 0.895, 0.875, 0.86, 0.853, 0.85],
    [1, 0.97, 0.94, 0.91, 0.89, 0.872, 0.858, 0.85, 0.848],
    [1, 0.965, 0.93, 0.90, 0.875, 0.86, 0.855, 0.855, 0.855],
    [1, 0.975, 0.95, 0.92, 0.895, 0.875, 0.862, 0.855, 0.85],
    [1, 0.975, 0.95, 0.92, 0.895, 0.878, 0.865, 0.855, 0.85]]
nwt_5inf_end = [(6209, 0.85), (6209, 0.848), (2700, 0.855), (6150, 0.848), (6209, 0.85)]
nwt_5a5_s = [
    [1, 0.96, 0.92, 0.88, 0.86, 0.845, 0.835, 0.83, 0.83],
    [1, 0.95, 0.90, 0.865, 0.84, 0.825, 0.815, 0.81, 0.81],
    [1, 0.965, 0.93, 0.90, 0.88, 0.865, 0.86, 0.855, 0.855],
    [1, 0.97, 0.94, 0.91, 0.895, 0.88, 0.87, 0.865, 0.865],
    [1, 0.985, 0.97, 0.955, 0.94, 0.93, 0.92, 0.915, 0.91]]
nwt_5a5_end = [(6209, 0.83), (6209, 0.805), (2700, 0.855), (6209, 0.865), (5900, 0.91)]
nwt_10inf_s = [
    [1, 0.97, 0.94, 0.905, 0.88, 0.865, 0.855, 0.85, 0.85],
    [1, 0.975, 0.95, 0.915, 0.89, 0.87, 0.86, 0.852, 0.84],
    [1, 0.97, 0.945, 0.91, 0.885, 0.87, 0.86, 0.855, 0.853],
    [1, 0.975, 0.95, 0.92, 0.89, 0.87, 0.86, 0.855, 0.855],
    [1, 0.98, 0.955, 0.925, 0.90, 0.88, 0.865, 0.86, 0.858],
    [1, 0.975, 0.95, 0.915, 0.89, 0.872, 0.862, 0.856, 0.855],
    [1, 0.98, 0.955, 0.925, 0.90, 0.878, 0.865, 0.86, 0.86],
    [1, 0.97, 0.945, 0.915, 0.89, 0.87, 0.86, 0.855, 0.852],
    [1, 0.97, 0.94, 0.91, 0.885, 0.87, 0.86, 0.855, 0.85],
    [1, 0.965, 0.93, 0.895, 0.87, 0.855, 0.85, 0.848, 0.848]]
nwt_10inf_end = [(6209, 0.85), (6209, 0.84), (6209, 0.853), (6100, 0.855), (6209, 0.858),
                 (6209, 0.855), (6209, 0.86), (6209, 0.852), (6209, 0.85), (6209, 0.848)]
nwt_10a5_s = [
    [1, 0.95, 0.90, 0.86, 0.83, 0.81, 0.80, 0.795, 0.79],
    [1, 0.985, 0.97, 0.95, 0.935, 0.92, 0.91, 0.905, 0.905],
    [1, 0.975, 0.95, 0.92, 0.90, 0.885, 0.878, 0.875, 0.875],
    [1, 0.99, 0.975, 0.96, 0.945, 0.93, 0.925, 0.92, 0.92],
    [1, 0.95, 0.90, 0.86, 0.835, 0.82, 0.812, 0.81, 0.81],
    [1, 0.96, 0.92, 0.885, 0.86, 0.848, 0.842, 0.84, 0.84],
    [1, 0.95, 0.905, 0.865, 0.84, 0.825, 0.812, 0.806, 0.805],
    [1, 0.96, 0.92, 0.88, 0.855, 0.84, 0.83, 0.826, 0.825],
    [1, 0.975, 0.95, 0.92, 0.90, 0.89, 0.883, 0.88, 0.88],
    [1, 0.97, 0.945, 0.915, 0.89, 0.878, 0.872, 0.87, 0.87]]
nwt_10a5_end = [(6209, 0.79), (6209, 0.895), (6209, 0.875), (6150, 0.92), (6209, 0.81),
                (6209, 0.84), (6209, 0.805), (6209, 0.825), (6209, 0.88), (6209, 0.87)]
nwt_20inf_s = [
    [1, 0.97, 0.94, 0.91, 0.885, 0.868, 0.858, 0.852, 0.85],
    [1, 0.975, 0.95, 0.92, 0.893, 0.875, 0.862, 0.855, 0.845],
    [1, 0.965, 0.93, 0.90, 0.878, 0.865, 0.857, 0.853, 0.852],
    [1, 0.975, 0.95, 0.92, 0.895, 0.875, 0.864, 0.857, 0.855],
    [1, 0.98, 0.955, 0.925, 0.90, 0.88, 0.868, 0.86, 0.858],
    [1, 0.97, 0.945, 0.915, 0.89, 0.872, 0.862, 0.856, 0.854],
    [1, 0.98, 0.96, 0.93, 0.905, 0.885, 0.87, 0.862, 0.86],
    [1, 0.975, 0.95, 0.915, 0.89, 0.872, 0.86, 0.854, 0.852],
    [1, 0.97, 0.94, 0.91, 0.887, 0.87, 0.86, 0.855, 0.853],
    [1, 0.96, 0.925, 0.895, 0.872, 0.86, 0.853, 0.85, 0.85],
    [1, 0.972, 0.945, 0.912, 0.888, 0.87, 0.86, 0.855, 0.853],
    [1, 0.978, 0.955, 0.925, 0.898, 0.878, 0.865, 0.857, 0.855],
    [1, 0.968, 0.935, 0.905, 0.882, 0.867, 0.858, 0.854, 0.853],
    [1, 0.97, 0.94, 0.91, 0.886, 0.87, 0.86, 0.855, 0.854],
    [1, 0.975, 0.952, 0.922, 0.896, 0.877, 0.865, 0.858, 0.856],
    [1, 0.97, 0.94, 0.908, 0.884, 0.868, 0.858, 0.853, 0.852],
    [1, 0.978, 0.955, 0.925, 0.90, 0.88, 0.867, 0.86, 0.858],
    [1, 0.972, 0.946, 0.914, 0.89, 0.872, 0.861, 0.855, 0.853],
    [1, 0.975, 0.95, 0.92, 0.894, 0.875, 0.863, 0.856, 0.855],
    [1, 0.962, 0.93, 0.898, 0.875, 0.862, 0.855, 0.852, 0.851]]
nwt_20inf_end = [(6209, 0.85), (6209, 0.845), (6209, 0.852), (6209, 0.855), (6209, 0.858),
                 (6209, 0.854), (6209, 0.86), (6209, 0.852), (6209, 0.853), (6209, 0.85),
                 (6209, 0.853), (6209, 0.855), (6209, 0.853), (6209, 0.854), (6209, 0.856),
                 (6209, 0.852), (6209, 0.858), (6209, 0.853), (6209, 0.855), (6209, 0.851)]
nwt_20a5_s = [
    [1, 0.97, 0.94, 0.91, 0.89, 0.875, 0.868, 0.865, 0.865],
    [1, 0.96, 0.92, 0.88, 0.855, 0.84, 0.832, 0.83, 0.83],
    [1, 0.94, 0.88, 0.83, 0.80, 0.785, 0.78, 0.78, 0.78],
    [1, 0.99, 0.975, 0.96, 0.945, 0.935, 0.93, 0.93, 0.93],
    [1, 0.99, 0.98, 0.97, 0.96, 0.95, 0.90, 0.87, 0.865],
    [1, 0.995, 0.985, 0.975, 0.965, 0.955, 0.91, 0.90, 0.90],
    [1, 0.95, 0.90, 0.86, 0.84, 0.83, 0.822, 0.82, 0.82],
    [1, 0.98, 0.96, 0.935, 0.915, 0.90, 0.89, 0.885, 0.885],
    [1, 0.98, 0.96, 0.94, 0.92, 0.905, 0.897, 0.893, 0.892],
    [1, 0.96, 0.925, 0.89, 0.86, 0.845, 0.84, 0.84, 0.84],
    [1, 0.975, 0.95, 0.92, 0.895, 0.88, 0.875, 0.872, 0.872],
    [1, 0.95, 0.90, 0.86, 0.83, 0.81, 0.80, 0.80, 0.80],
    [1, 0.95, 0.90, 0.85, 0.815, 0.80, 0.792, 0.79, 0.79],
    [1, 0.985, 0.97, 0.955, 0.94, 0.93, 0.922, 0.92, 0.92],
    [1, 0.965, 0.93, 0.895, 0.87, 0.857, 0.852, 0.85, 0.85],
    [1, 0.98, 0.96, 0.935, 0.91, 0.895, 0.885, 0.88, 0.88],
    [1, 0.96, 0.92, 0.88, 0.85, 0.835, 0.83, 0.828, 0.828],
    [1, 0.97, 0.945, 0.915, 0.89, 0.872, 0.862, 0.86, 0.86],
    [1, 0.985, 0.97, 0.95, 0.93, 0.912, 0.903, 0.90, 0.90],
    [1, 0.955, 0.91, 0.87, 0.84, 0.823, 0.812, 0.81, 0.81]]
nwt_20a5_end = [(6209, 0.865), (6209, 0.83), (6209, 0.78), (6209, 0.93), (6209, 0.865),
                (6209, 0.90), (6209, 0.82), (6209, 0.885), (6209, 0.892), (6209, 0.84),
                (6209, 0.872), (6209, 0.80), (6209, 0.79), (6209, 0.92), (6209, 0.85),
                (6209, 0.88), (6209, 0.828), (6209, 0.86), (6209, 0.90), (6209, 0.81)]

# ---------------- FLCHAIN ----------------
flc_t = [0, 500, 1000, 1500, 2000, 2500, 3000, 3500, 4000, 4500, 5000]
flc_full_s = [[1.0, 0.97, 0.94, 0.90, 0.87, 0.84, 0.81, 0.78, 0.75, 0.72, 0.69]]
flc_full_end = [(5200, 0.68)]
flc_5inf_s = [
    [1, 0.97, 0.94, 0.905, 0.872, 0.843, 0.81, 0.778, 0.748, 0.718, 0.69],
    [1, 0.975, 0.945, 0.91, 0.878, 0.845, 0.812, 0.78, 0.75, 0.72, 0.69],
    [1, 0.965, 0.932, 0.90, 0.865, 0.838, 0.807, 0.776, 0.748, 0.72, 0.692],
    [1, 0.975, 0.948, 0.915, 0.88, 0.848, 0.814, 0.782, 0.752, 0.718, 0.685],
    [1, 0.972, 0.942, 0.908, 0.875, 0.842, 0.806, 0.775, 0.746, 0.716, 0.688]]
flc_5inf_end = [(5200, 0.685), (5200, 0.69), (5200, 0.69), (5150, 0.66), (5200, 0.685)]
flc_5a5_s = [
    [1, 0.96, 0.93, 0.90, 0.87, 0.84, 0.76, 0.72, 0.69, 0.66, 0.61],
    [1, 0.98, 0.96, 0.93, 0.90, 0.87, 0.84, 0.81, 0.77, 0.73, 0.70],
    [1, 0.95, 0.92, 0.89, 0.86, 0.83, 0.81, 0.78, 0.75, 0.71, 0.67],
    [1, 0.99, 0.97, 0.94, 0.91, 0.88, 0.85, 0.82, 0.78, 0.74, 0.71],
    [1, 0.97, 0.94, 0.91, 0.88, 0.85, 0.82, 0.79, 0.76, 0.72, 0.67]]
flc_5a5_end = [(5200, 0.59), (5200, 0.70), (5200, 0.66), (5200, 0.71), (5200, 0.66)]
flc_10inf_s = [
    [1, 0.97, 0.94, 0.905, 0.872, 0.84, 0.81, 0.78, 0.75, 0.72, 0.695],
    [1, 0.968, 0.937, 0.903, 0.87, 0.84, 0.808, 0.778, 0.748, 0.717, 0.69],
    [1, 0.972, 0.942, 0.908, 0.875, 0.842, 0.81, 0.78, 0.75, 0.72, 0.69],
    [1, 0.97, 0.94, 0.905, 0.87, 0.838, 0.806, 0.776, 0.746, 0.716, 0.686],
    [1, 0.974, 0.945, 0.91, 0.877, 0.845, 0.812, 0.781, 0.751, 0.72, 0.692],
    [1, 0.969, 0.938, 0.904, 0.871, 0.84, 0.808, 0.777, 0.747, 0.717, 0.688],
    [1, 0.973, 0.944, 0.91, 0.878, 0.846, 0.815, 0.783, 0.752, 0.722, 0.694],
    [1, 0.97, 0.94, 0.906, 0.873, 0.841, 0.809, 0.779, 0.749, 0.719, 0.69],
    [1, 0.971, 0.941, 0.907, 0.874, 0.843, 0.812, 0.781, 0.75, 0.72, 0.69],
    [1, 0.968, 0.936, 0.902, 0.868, 0.835, 0.805, 0.776, 0.748, 0.72, 0.694]]
flc_10inf_end = [(5200, 0.69), (5200, 0.69), (5200, 0.64), (5100, 0.68), (5200, 0.69),
                 (5200, 0.685), (5200, 0.69), (5200, 0.69), (5200, 0.688), (5200, 0.692)]
flc_10a5_s = [
    [1, 0.96, 0.92, 0.89, 0.86, 0.83, 0.80, 0.77, 0.74, 0.70, 0.67],
    [1, 0.97, 0.94, 0.90, 0.84, 0.78, 0.76, 0.74, 0.72, 0.69, 0.66],
    [1, 0.975, 0.95, 0.92, 0.89, 0.86, 0.83, 0.80, 0.77, 0.73, 0.70],
    [1, 0.97, 0.94, 0.91, 0.88, 0.85, 0.82, 0.79, 0.76, 0.72, 0.68],
    [1, 0.97, 0.93, 0.90, 0.86, 0.78, 0.75, 0.72, 0.70, 0.67, 0.63],
    [1, 0.985, 0.97, 0.95, 0.93, 0.90, 0.87, 0.84, 0.81, 0.78, 0.75],
    [1, 0.98, 0.96, 0.93, 0.90, 0.87, 0.84, 0.80, 0.76, 0.71, 0.65],
    [1, 0.975, 0.95, 0.92, 0.89, 0.86, 0.83, 0.80, 0.77, 0.74, 0.71],
    [1, 0.98, 0.96, 0.94, 0.91, 0.88, 0.85, 0.82, 0.79, 0.76, 0.74],
    [1, 0.96, 0.93, 0.90, 0.87, 0.84, 0.81, 0.78, 0.75, 0.72, 0.70]]
flc_10a5_end = [(5200, 0.67), (5200, 0.65), (5200, 0.69), (5200, 0.68), (5200, 0.62),
                (5200, 0.75), (5200, 0.64), (5200, 0.71), (5200, 0.74), (5200, 0.70)]
flc_20inf_s = [
    [1, 0.97, 0.94, 0.905, 0.872, 0.84, 0.81, 0.78, 0.75, 0.72, 0.68],
    [1, 0.972, 0.943, 0.908, 0.876, 0.845, 0.812, 0.78, 0.75, 0.722, 0.695],
    [1, 0.968, 0.937, 0.903, 0.87, 0.838, 0.806, 0.776, 0.747, 0.718, 0.69],
    [1, 0.965, 0.932, 0.898, 0.866, 0.836, 0.806, 0.776, 0.746, 0.715, 0.62],
    [1, 0.972, 0.944, 0.91, 0.877, 0.846, 0.814, 0.782, 0.75, 0.72, 0.69],
    [1, 0.97, 0.94, 0.905, 0.871, 0.84, 0.808, 0.777, 0.748, 0.718, 0.69],
    [1, 0.971, 0.942, 0.908, 0.875, 0.845, 0.82, 0.79, 0.755, 0.722, 0.692],
    [1, 0.966, 0.934, 0.90, 0.868, 0.838, 0.805, 0.774, 0.745, 0.716, 0.688],
    [1, 0.974, 0.946, 0.913, 0.88, 0.85, 0.818, 0.785, 0.752, 0.72, 0.69],
    [1, 0.969, 0.938, 0.904, 0.872, 0.84, 0.81, 0.78, 0.75, 0.72, 0.69],
    [1, 0.971, 0.941, 0.906, 0.873, 0.842, 0.81, 0.779, 0.749, 0.719, 0.68],
    [1, 0.973, 0.945, 0.911, 0.878, 0.847, 0.814, 0.782, 0.751, 0.721, 0.692],
    [1, 0.967, 0.936, 0.902, 0.87, 0.839, 0.807, 0.776, 0.747, 0.718, 0.69],
    [1, 0.97, 0.94, 0.906, 0.874, 0.843, 0.811, 0.779, 0.749, 0.719, 0.69],
    [1, 0.972, 0.943, 0.909, 0.876, 0.845, 0.813, 0.781, 0.75, 0.72, 0.69],
    [1, 0.968, 0.937, 0.903, 0.87, 0.839, 0.807, 0.777, 0.748, 0.719, 0.69],
    [1, 0.974, 0.946, 0.912, 0.88, 0.85, 0.825, 0.795, 0.758, 0.725, 0.696],
    [1, 0.969, 0.938, 0.904, 0.871, 0.84, 0.808, 0.778, 0.748, 0.718, 0.688],
    [1, 0.973, 0.945, 0.912, 0.88, 0.85, 0.82, 0.788, 0.754, 0.722, 0.692],
    [1, 0.97, 0.94, 0.905, 0.872, 0.84, 0.809, 0.779, 0.75, 0.721, 0.693]]
flc_20inf_end = [(5100, 0.66), (5200, 0.69), (5200, 0.69), (5100, 0.60), (5200, 0.69),
                 (5200, 0.69), (5200, 0.69), (5200, 0.686), (5200, 0.69), (5200, 0.69),
                 (5150, 0.67), (5200, 0.69), (5200, 0.66), (5200, 0.69), (5200, 0.69),
                 (5200, 0.69), (5200, 0.695), (5200, 0.688), (5200, 0.69), (5200, 0.69)]
flc_20a5_s = [
    [1, 0.98, 0.96, 0.94, 0.92, 0.89, 0.86, 0.83, 0.80, 0.76, 0.72],
    [1, 0.97, 0.94, 0.91, 0.88, 0.85, 0.82, 0.79, 0.76, 0.72, 0.69],
    [1, 0.96, 0.92, 0.89, 0.86, 0.83, 0.80, 0.77, 0.73, 0.69, 0.66],
    [1, 0.96, 0.92, 0.88, 0.84, 0.80, 0.78, 0.76, 0.72, 0.69, 0.67],
    [1, 0.975, 0.95, 0.92, 0.89, 0.86, 0.83, 0.80, 0.77, 0.73, 0.70],
    [1, 0.97, 0.95, 0.92, 0.89, 0.86, 0.83, 0.79, 0.76, 0.72, 0.68],
    [1, 0.98, 0.96, 0.93, 0.90, 0.87, 0.84, 0.81, 0.78, 0.75, 0.72],
    [1, 0.95, 0.90, 0.86, 0.80, 0.77, 0.74, 0.71, 0.67, 0.63, 0.60],
    [1, 0.985, 0.97, 0.95, 0.93, 0.91, 0.88, 0.85, 0.82, 0.78, 0.75],
    [1, 0.975, 0.95, 0.92, 0.895, 0.87, 0.84, 0.81, 0.78, 0.745, 0.71],
    [1, 0.98, 0.965, 0.945, 0.92, 0.895, 0.87, 0.84, 0.81, 0.77, 0.73],
    [1, 0.97, 0.945, 0.915, 0.885, 0.855, 0.825, 0.795, 0.76, 0.725, 0.70],
    [1, 0.965, 0.93, 0.90, 0.87, 0.84, 0.81, 0.78, 0.75, 0.70, 0.64],
    [1, 0.97, 0.94, 0.91, 0.88, 0.85, 0.82, 0.79, 0.75, 0.71, 0.68],
    [1, 0.975, 0.95, 0.92, 0.89, 0.865, 0.835, 0.80, 0.765, 0.73, 0.70],
    [1, 0.97, 0.945, 0.915, 0.885, 0.855, 0.825, 0.79, 0.755, 0.72, 0.69],
    [1, 0.975, 0.955, 0.93, 0.90, 0.87, 0.84, 0.81, 0.78, 0.745, 0.71],
    [1, 0.965, 0.935, 0.905, 0.875, 0.845, 0.815, 0.785, 0.755, 0.72, 0.68],
    [1, 0.98, 0.96, 0.935, 0.91, 0.885, 0.855, 0.825, 0.795, 0.76, 0.73],
    [1, 0.97, 0.945, 0.92, 0.89, 0.86, 0.83, 0.80, 0.77, 0.735, 0.70]]
flc_20a5_end = [(5200, 0.70), (5200, 0.68), (5200, 0.65), (5200, 0.66), (5200, 0.69),
                (5200, 0.67), (5200, 0.72), (5200, 0.59), (5200, 0.75), (5200, 0.70),
                (5200, 0.72), (5200, 0.70), (5200, 0.63), (5200, 0.68), (5200, 0.69),
                (5200, 0.68), (5200, 0.70), (5200, 0.67), (5200, 0.73), (5200, 0.70)]

rows = [
    (whas_full_t, whas_t, [(whas_full_s, whas_full_end), (whas_5inf_s, whas_5inf_end), (whas_5a5_s, whas_5a5_end),
                           (whas_10inf_s, whas_10inf_end), (whas_10a5_s, whas_10a5_end),
                           (whas_20inf_s, whas_20inf_end), (whas_20a5_s, whas_20a5_end)]),
    (gbsg_full_t, gbsg_t, [(gbsg_full_s, gbsg_full_end), (gbsg_5inf_s, gbsg_5inf_end), (gbsg_5a5_s, gbsg_5a5_end),
                           (gbsg_10inf_s, gbsg_10inf_end), (gbsg_10a5_s, gbsg_10a5_end),
                           (gbsg_20inf_s, gbsg_20inf_end), (gbsg_20a5_s, gbsg_20a5_end)]),
    (meta_full_t, meta_t, [(meta_full_s, meta_full_end), (meta_5inf_s, meta_5inf_end), (meta_5a5_s, meta_5a5_end),
                           (meta_10inf_s, meta_10inf_end), (meta_10a5_s, meta_10a5_end),
                           (meta_20inf_s, meta_20inf_end), (meta_20a5_s, meta_20a5_end)]),
    (nwt_t, nwt_t, [(nwt_full_s, nwt_full_end), (nwt_5inf_s, nwt_5inf_end), (nwt_5a5_s, nwt_5a5_end),
                    (nwt_10inf_s, nwt_10inf_end), (nwt_10a5_s, nwt_10a5_end),
                    (nwt_20inf_s, nwt_20inf_end), (nwt_20a5_s, nwt_20a5_end)]),
    (flc_t, flc_t, [(flc_full_s, flc_full_end), (flc_5inf_s, flc_5inf_end), (flc_5a5_s, flc_5a5_end),
                    (flc_10inf_s, flc_10inf_end), (flc_10a5_s, flc_10a5_end),
                    (flc_20inf_s, flc_20inf_end), (flc_20a5_s, flc_20a5_end)]),
]


def draw_km(ax, grid, vals, end, color, steps):
    n = min(len(vals), sum(1 for g in grid if g < end[0]))
    t = list(grid[:n])
    s = list(vals[:n])
    if steps:
        ax.step(t + [end[0]], s + [end[1]], where='post', color=color, lw=1.2)
    else:
        # last observed value is held flat to the end time, then the final drop
        ax.plot(t + [end[0], end[0]], s + [s[-1], end[1]], color=color, lw=1.2)


fig, axes = plt.subplots(5, 7, figsize=(14, 7.62), dpi=100)
fig.subplots_adjust(left=0.057, right=0.989, top=0.967, bottom=0.05, wspace=0.247, hspace=0.40)

for r, (full_t, grid, panels) in enumerate(rows):
    for c, (curves, ends) in enumerate(panels):
        ax = axes[r, c]
        g = full_t if c == 0 else grid
        steps = c >= step_from_col[r]
        for i, (vals, end) in enumerate(zip(curves, ends)):
            draw_km(ax, g, vals, end, 'C%d' % (i % 10), steps)
        ax.set_xlim(0, t_max[r])
        ax.set_ylim(0, 1.0)
        ax.set_xticks(x_ticks[r])
        ax.set_yticks([0.0, 0.5, 1.0])
        ax.tick_params(labelsize=11, pad=2)
        for sp in ax.spines.values():
            sp.set_color('0.8')
        if c == 0:
            ax.set_ylabel(datasets[r] + '\n' + r'$\hat{S}(t)$', fontsize=11)
        else:
            ax.tick_params(labelleft=False)
        if r == 0:
            ax.set_title(col_titles[c], fontsize=13, pad=4)
        if r == 4:
            ax.set_xlabel('Time $t$', fontsize=11, labelpad=1)

fig.savefig('out.png', dpi=100)
